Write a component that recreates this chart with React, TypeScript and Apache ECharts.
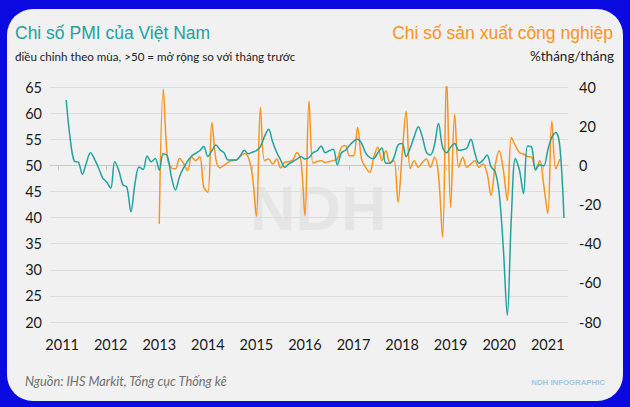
import React, { useEffect, useRef } from 'react';
import * as echarts from 'echarts';

// Monthly category axis: Nov 2010 .. Jul 2021
const AXIS_START_YEAR = 2010;
const AXIS_START_MONTH = 11;
const AXIS_MONTHS = 129;

// Vietnam PMI (left axis), starts Mar 2011
const pmiStart = '2011-03';
const pmi = [
  62.5, 55.0, 50.8, 50.6, 48.3, 50.5, 52.4, 51.2, 49.5, 47.6, 46.8, 45.6,
  50.7, 49.0, 46.3, 45.8, 41.1, 46.5, 49.7, 49.2, 51.8, 50.7, 51.3, 49.1,
  52.2, 51.8, 47.8, 45.3, 47.8, 49.5, 50.8, 51.8, 52.3, 52.8, 53.6, 51.7,
  52.8, 53.9, 53.0, 52.4, 51.0, 51.0, 51.0, 51.8, 52.9, 52.2, 52.5, 52.8,
  53.6, 55.5, 56.9, 54.5, 52.5, 51.0, 49.6, 50.3, 50.7, 51.2, 51.7, 51.2,
  51.5, 52.4, 52.8, 53.7, 52.4, 52.8, 53.1, 50.1, 52.4, 52.9, 53.8, 54.6,
  55.0, 54.2, 52.4, 51.5, 51.3, 52.4, 53.3, 50.4, 50.4, 51.5, 53.9, 54.2,
  51.7, 53.3, 55.5, 57.4, 55.5, 52.5, 52.0, 53.9, 58.0, 53.5, 52.4, 53.5,
  54.2, 52.9, 53.0, 53.3, 55.0, 52.3, 50.4, 51.0, 52.0, 49.7, 48.8, 44.6,
  34.4, 21.3, 40.0, 51.3, 49.1, 44.6, 53.7, 53.5, 49.1, 50.1, 49.9, 52.9,
  55.4, 56.3, 53.5, 39.9,
];

// Industrial production, % month-on-month (right axis), starts Feb 2013
const iipStart = '2013-02';
const iip = [
  -29.8, 38.8, 4.0, -1.3, -1.8, 3.5, 1.0, -2.7, 4.4, 2.4, 4.4, -11.2,
  -13.7, 21.9, 3.0, -1.3, 0.0, 1.5, 2.4, 2.7, 4.5, 6.1, 4.1, -5.0,
  -26.1, 29.5, 2.4, 3.2, 0.7, 3.2, -1.3, 1.5, 2.0, 2.7, 6.6, 2.4,
  -25.6, 32.9, 1.0, 2.0, 2.4, 1.5, 2.0, 2.4, 3.2, 9.2, 10.0, 4.9,
  4.9, 19.3, 3.0, -1.0, -3.6, 4.1, 9.2, 2.4, 7.5, 1.5, 2.4, -18.8,
  5.0, 27.8, -1.8, 2.4, -1.0, 1.5, 3.2, -1.0, 4.1, -5.0, -36.6, 45.6,
  -21.4, 26.1, -1.0, 4.1, -1.0, 0.7, 2.4, -1.0, 0.7, -4.0, -15.4, 0.0,
  7.5, -2.0, -18.0, 14.2, 10.0, 6.6, 5.8, 4.5, 4.1, -1.8, 2.4, -10.0,
  -24.7, 22.7, -1.8, 3.2,
];

const leftTitle = 'Chi số PMI của Việt Nam';
const leftSubtitle = 'điều chỉnh theo mùa, >50 = mở rộng so với tháng trước';
const rightTitle = 'Chi số sản xuất công nghiệp';
const rightSubtitle = '%tháng/tháng';
const sourceText = 'Nguồn: IHS Markit, Tổng cục Thống kê';
const brandText = 'NDH INFOGRAPHIC';
const watermarkText = 'NDH';

const TEAL = '#21a29e';
const ORANGE = '#f7941d';

function buildMonths(): string[] {
  const out: string[] = [];
  for (let i = 0; i < AXIS_MONTHS; i++) {
    const m0 = AXIS_START_MONTH - 1 + i;
    const y = AXIS_START_YEAR + Math.floor(m0 / 12);
    const m = (m0 % 12) + 1;
    out.push(`${y}-${m < 10 ? '0' + m : m}`);
  }
  return out;
}

function align(months: string[], start: string, values: number[]): (number | null)[] {
  const idx = months.indexOf(start);
  return months.map((_, i) => {
    const k = i - idx;
    return k >= 0 && k < values.length ? values[k] : null;
  });
}

export default function App() {
  const ref = useRef<HTMLDivElement>(null);

  useEffect(() => {
    document.body.style.margin = '0';
    if (!ref.current) return;
    const chart = echarts.init(ref.current, undefined, { renderer: 'svg' });
    const months = buildMonths();
    const labelFont = 'Lato, "Liberation Sans", sans-serif';

    chart.setOption({
      animation: false,
      backgroundColor: 'transparent',
      grid: { left: 50, right: 62, top: 87, bottom: 85, containLabel: false },
      xAxis: {
        type: 'category',
        data: months,
        boundaryGap: false,
        axisLine: { lineStyle: { color: '#c9c9c9', width: 1 } },
        axisTick: {
          interval: (i: number) => months[i].endsWith('-01'),
          length: 5,
          lineStyle: { color: '#c9c9c9' },
        },
        axisLabel: {
          interval: (i: number) => months[i].endsWith('-02'),
          formatter: (v: string) => v.slice(0, 4),
          color: '#1a1a1a',
          fontFamily: labelFont,
          fontSize: 14.5,
          margin: 15,
        },
        splitLine: { show: false },
      },
      yAxis: [
        {
          type: 'value',
          min: 20,
          max: 65,
          interval: 5,
          axisLine: { show: false },
          axisTick: { show: false },
          axisLabel: { color: '#1a1a1a', fontFamily: labelFont, fontSize: 14.5, margin: 8 },
          splitLine: { lineStyle: { color: '#dddddd', width: 1 } },
        },
        {
          type: 'value',
          min: -80,
          max: 40,
          interval: 20,
          axisLine: { show: false },
          axisTick: { show: false },
          axisLabel: { color: '#1a1a1a', fontFamily: labelFont, fontSize: 14.5, margin: 11, align: 'left' },
          splitLine: { show: false },
        },
      ],
      series: [
        {
          name: 'IIP',
          type: 'line',
          yAxisIndex: 1,
          data: align(months, iipStart, iip),
          smooth: 0.35,
          showSymbol: false,
          lineStyle: { color: ORANGE, width: 1.5 },
          itemStyle: { color: ORANGE },
          z: 3,
        },
        {
          name: 'PMI',
          type: 'line',
          yAxisIndex: 0,
          data: align(months, pmiStart, pmi),
          smooth: 0.35,
          showSymbol: false,
          lineStyle: { color: TEAL, width: 1.5 },
          itemStyle: { color: TEAL },
          z: 4,
        },
      ],
      graphic: [
        {
          type: 'text',
          z: -5,
          left: 250,
          top: 176,
          style: {
            text: watermarkText,
            fill: '#e5e5e5',
            font: 'bold 63px "Liberation Sans", Arial, sans-serif',
          },
        },
        {
          type: 'text',
          x: 15,
          y: 33,
          style: {
            text: leftTitle,
            fill: TEAL,
            font: '17.5px "Liberation Sans", Arial, sans-serif',
            verticalAlign: 'middle',
          },
        },
        {
          type: 'text',
          x: 15,
          y: 56,
          style: {
            text: leftSubtitle,
            fill: '#222',
            font: '11.6px Lato, sans-serif',
            verticalAlign: 'middle',
          },
        },
        {
          type: 'text',
          x: 613,
          y: 33,
          style: {
            text: rightTitle,
            fill: ORANGE,
            font: '17.5px "Liberation Sans", Arial, sans-serif',
            align: 'right',
            verticalAlign: 'middle',
          },
        },
        {
          type: 'text',
          x: 614,
          y: 56,
          style: {
            text: rightSubtitle,
            fill: '#222',
            font: '13.5px Lato, sans-serif',
            align: 'right',
            verticalAlign: 'middle',
          },
        },
        {
          type: 'text',
          x: 25,
          y: 381,
          style: {
            text: sourceText,
            fill: '#707070',
            font: 'italic 12.8px Lato, sans-serif',
            verticalAlign: 'middle',
          },
        },
        {
          type: 'text',
          x: 605,
          y: 382,
          style: {
            text: brandText,
            fill: '#9fcae3',
            font: 'bold 7.8px "Liberation Sans", Arial, sans-serif',
            align: 'right',
            verticalAlign: 'middle',
          },
        },
      ],
    });

    return () => chart.dispose();
  }, []);

  return (
    <div style={{ position: 'relative', width: 630, height: 407, background: '#0a0ae0', overflow: 'hidden' }}>
      <div
        style={{
          position: 'absolute',
          left: 7,
          top: 9,
          width: 616,
          height: 392,
          borderRadius: 26,
          background: '#f1f1f1',
        }}
      />
      <div ref={ref} style={{ position: 'absolute', left: 0, top: 0, width: 630, height: 407 }} />
    </div>
  );
}
